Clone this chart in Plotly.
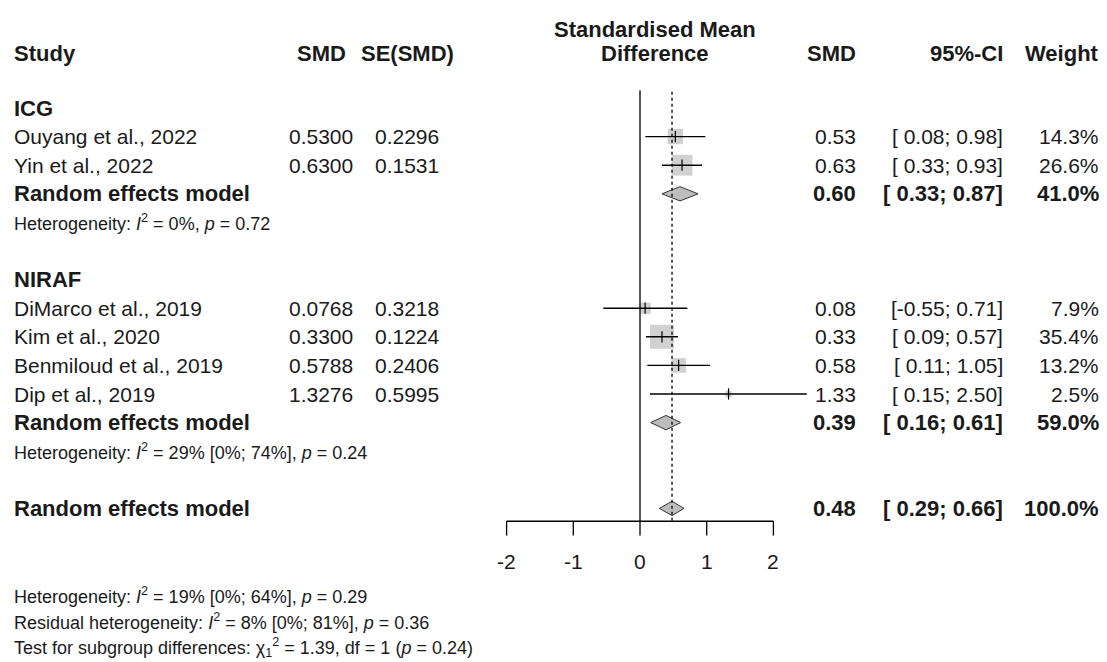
import plotly.graph_objects as go
import math

# ---------------- data ----------------
group_names = ["ICG", "NIRAF"]
study_names = ["Ouyang et al., 2022", "Yin et al., 2022",
               "DiMarco et al., 2019", "Kim et al., 2020",
               "Benmiloud et al., 2019", "Dip et al., 2019"]
study_group = ["ICG", "ICG", "NIRAF", "NIRAF", "NIRAF", "NIRAF"]
smd = [0.5300, 0.6300, 0.0768, 0.3300, 0.5788, 1.3276]
se_smd = [0.2296, 0.1531, 0.3218, 0.1224, 0.2406, 0.5995]
ci_lower = [0.08, 0.33, -0.55, 0.09, 0.11, 0.15]
ci_upper = [0.98, 0.93, 0.71, 0.57, 1.05, 2.50]
weight_pct = [14.3, 26.6, 7.9, 35.4, 13.2, 2.5]

pooled_label = "Random effects model"
pooled_est = [0.60, 0.39, 0.48]      # ICG, NIRAF, overall
pooled_lower = [0.33, 0.16, 0.29]
pooled_upper = [0.87, 0.61, 0.66]
pooled_weight = [41.0, 59.0, 100.0]

group_het = ["Heterogeneity: <i>I</i><sup>2</sup> = 0%, <i>p</i> = 0.72",
             "Heterogeneity: <i>I</i><sup>2</sup> = 29% [0%; 74%], <i>p</i> = 0.24"]
overall_het = ["Heterogeneity: <i>I</i><sup>2</sup> = 19% [0%; 64%], <i>p</i> = 0.29",
               "Residual heterogeneity: <i>I</i><sup>2</sup> = 8% [0%; 81%], <i>p</i> = 0.36",
               "Test for subgroup differences: χ<sub>1</sub><sup>2</sup> = 1.39, df = 1 (<i>p</i> = 0.24)"]
axis_ticks = [-2, -1, 0, 1, 2]

# ---------------- layout geometry ----------------
W, H = 1107, 662
ROW0_PX, ROW_PX = 108, 28.6          # pixel y of row 0, row spacing
X0_PX, UNIT_PX = 640, 66.7           # pixel x of SMD=0, pixels per SMD unit
FONT = "Liberation Sans, Arial, sans-serif"
TXT = "#1a1a1a"
FS = 21
FS_B = 22
FS_HET = 18

def px(xp):
    return xp / W

# row assignment
r = 0
study_row = {}
pooled_row = []
het_row = []
group_row = []
for gi, g in enumerate(group_names):
    group_row.append(r); r += 1
    for i, s in enumerate(study_names):
        if study_group[i] == g:
            study_row[i] = r; r += 1
    pooled_row.append(r); r += 1
    het_row.append(r); r += 1
    r += 1
overall_row = r
axis_row = overall_row + 0.45
tick_len = 0.5
label_row = overall_row + 1.85
bottom_rows = [(595 - ROW0_PX) / ROW_PX, (621 - ROW0_PX) / ROW_PX, (647 - ROW0_PX) / ROW_PX]
header_row = (53 - ROW0_PX) / ROW_PX
header_top_row = (29 - ROW0_PX) / ROW_PX

fig = go.Figure()

# squares (area proportional to weight)
sq_x = [smd[i] for i in range(len(smd))]
sq_y = [study_row[i] for i in range(len(smd))]
sq_size = [24 * math.sqrt(w / max(weight_pct)) for w in weight_pct]
fig.add_trace(go.Scatter(x=sq_x, y=sq_y, mode="markers",
                         marker=dict(symbol="square", size=sq_size, color="#bdbdbd",
                                     line=dict(width=0)),
                         hoverinfo="skip", showlegend=False))
# CI lines
lx, ly = [], []
for i in range(len(smd)):
    lx += [ci_lower[i], ci_upper[i], None]
    ly += [study_row[i], study_row[i], None]
fig.add_trace(go.Scatter(x=lx, y=ly, mode="lines", line=dict(color="black", width=1.4),
                         hoverinfo="skip", showlegend=False))
fig.add_trace(go.Scatter(x=sq_x, y=sq_y, mode="markers",
                         marker=dict(symbol="line-ns", size=8,
                                     line=dict(color="black", width=1.2)),
                         hoverinfo="skip", showlegend=False))

# diamonds
dh = 0.25
all_pooled_rows = pooled_row + [overall_row]
for k in range(3):
    yr = all_pooled_rows[k]
    fig.add_trace(go.Scatter(
        x=[pooled_lower[k], pooled_est[k], pooled_upper[k], pooled_est[k], pooled_lower[k]],
        y=[yr, yr - dh, yr, yr + dh, yr],
        mode="lines", fill="toself", fillcolor="#bdbdbd",
        line=dict(color="#333333", width=1), hoverinfo="skip", showlegend=False))

top_line = -0.62
fig.add_shape(type="line", xref="x", yref="y", x0=0, x1=0, y0=top_line, y1=axis_row,
              line=dict(color="black", width=1.3))
fig.add_shape(type="line", xref="x", yref="y", x0=pooled_est[2], x1=pooled_est[2],
              y0=top_line + 0.05, y1=axis_row, line=dict(color="black", width=1.3, dash="dot"))

# axis
fig.add_shape(type="line", xref="x", yref="y", x0=axis_ticks[0], x1=axis_ticks[-1],
              y0=axis_row, y1=axis_row, line=dict(color="black", width=1.3))
for t in axis_ticks:
    fig.add_shape(type="line", xref="x", yref="y", x0=t, x1=t, y0=axis_row,
                  y1=axis_row + tick_len, line=dict(color="black", width=1.3))
    fig.add_annotation(x=t, y=label_row, xref="x", yref="y", text=str(t), showarrow=False,
                       xanchor="center", yanchor="middle",
                       font=dict(family=FONT, size=FS, color=TXT))

def ann(xp, row, text, anchor="left", size=FS, bold=False):
    if bold:
        text = "<b>" + text + "</b>"
    fig.add_annotation(x=px(xp), y=row, xref="paper", yref="y", text=text,
                       showarrow=False, xanchor=anchor, yanchor="middle",
                       font=dict(family=FONT, size=size, color=TXT))

# headers
ann(12, header_row, "Study", size=FS_B, bold=True)
ann(321, header_row, "SMD", "center", size=FS_B, bold=True)
ann(407, header_row, "SE(SMD)", "center", size=FS_B, bold=True)
ann(655, header_top_row, "Standardised Mean", "center", size=FS_B, bold=True)
ann(655, header_row, "Difference", "center", size=FS_B, bold=True)
ann(858, header_row, "SMD", "right", size=FS_B, bold=True)
ann(1005, header_row, "95%-CI", "right", size=FS_B, bold=True)
ann(1101, header_row, "Weight", "right", size=FS_B, bold=True)

# study rows
for i in range(len(study_names)):
    rr = study_row[i]
    ann(12, rr, study_names[i])
    ann(321, rr, f"{smd[i]:.4f}", "center")
    ann(407, rr, f"{se_smd[i]:.4f}", "center")
    ann(858, rr, f"{smd[i]:.2f}", "right")
    ann(1005, rr, f"[{ci_lower[i]:5.2f}; {ci_upper[i]:.2f}]", "right")
    ann(1101, rr, f"{weight_pct[i]:.1f}%", "right")

for gi, g in enumerate(group_names):
    ann(12, group_row[gi], g, size=FS_B, bold=True)
    ann(12, het_row[gi], group_het[gi], size=FS_HET)

for k in range(3):
    rr = all_pooled_rows[k]
    ann(12, rr, pooled_label, size=FS_B, bold=True)
    ann(858, rr, f"{pooled_est[k]:.2f}", "right", size=FS_B, bold=True)
    ann(1005, rr, f"[{pooled_lower[k]:5.2f}; {pooled_upper[k]:.2f}]", "right", size=FS_B, bold=True)
    ann(1101, rr, f"{pooled_weight[k]:.1f}%", "right", size=FS_B, bold=True)

for j, t in enumerate(overall_het):
    ann(12, bottom_rows[j], t, size=FS_HET)

fig.update_layout(
    width=W, height=H, margin=dict(l=0, r=0, t=0, b=0),
    paper_bgcolor="white", plot_bgcolor="white", showlegend=False,
    xaxis=dict(range=[-X0_PX / UNIT_PX, (W - X0_PX) / UNIT_PX], visible=False, fixedrange=True),
    yaxis=dict(range=[(H - ROW0_PX) / ROW_PX, -ROW0_PX / ROW_PX], visible=False, fixedrange=True),
)
fig.write_html("out.html", config={"displayModeBar": False},
               post_script="document.body.style.margin='0px';document.body.style.overflow='hidden';")
